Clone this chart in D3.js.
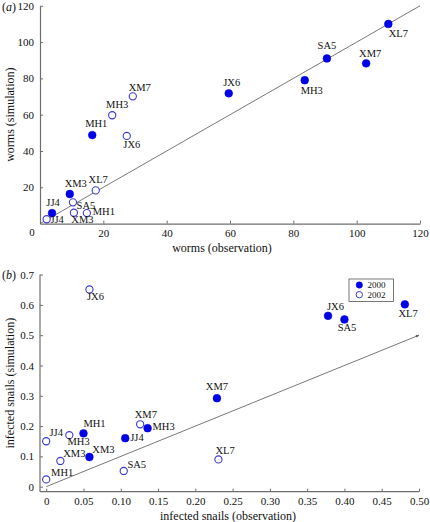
<!DOCTYPE html>
<html><head><meta charset="utf-8">
<script src="https://cdn.jsdelivr.net/npm/d3@7"></script>
<style>body{margin:0;background:#fff}svg{display:block;font-family:"Liberation Serif","Times New Roman",serif}</style>
</head><body>
<svg id="c" width="430" height="522"></svg>
<script>
// Panel (a): worms
const sitesA2000 = ["XL7","SA5","XM7","MH3","JX6","MH1","XM3","JJ4"];
const obsA2000   = [110, 90.6, 103, 83.6, 59.6, 16.5, 9.4, 3.8];
const simA2000   = [110, 91, 88.3, 79, 71.8, 48.8, 16.3, 5.8];
const sitesA2002 = ["XM7","MH3","JX6","XL7","SA5","XM3","MH1","JJ4"];
const obsA2002   = [29.3, 22.8, 27.4, 17.6, 10.4, 10.7, 14.8, 2.1];
const simA2002   = [70.1, 59.7, 48.3, 18.3, 11.7, 6.0, 5.8, 2.4];
const ticksA = [20, 40, 60, 80, 100, 120];

// Panel (b): infected snails
const sitesB2000 = ["XL7","JX6","SA5","XM7","MH3","JJ4","MH1","XM3"];
const obsB2000   = [0.481, 0.378, 0.400, 0.229, 0.136, 0.106, 0.050, 0.058];
const simB2000   = [0.602, 0.564, 0.552, 0.292, 0.193, 0.160, 0.176, 0.098];
const sitesB2002 = ["JX6","XM7","JJ4","MH3","XM3","MH1","SA5","XL7"];
const obsB2002   = [0.058, 0.126, 0.0, 0.031, 0.019, 0.0, 0.104, 0.231];
const simB2002   = [0.651, 0.206, 0.150, 0.170, 0.085, 0.024, 0.052, 0.090];
const ticksBx = [0, 0.05, 0.10, 0.15, 0.20, 0.25, 0.30, 0.35, 0.40, 0.45, 0.50];
const ticksBy = [0, 0.1, 0.2, 0.3, 0.4, 0.5, 0.6, 0.7];
const years = ["2000", "2002"];

const svg = d3.select("#c");
const FILL = "#0000e6", OPEN = "#3a3ad0", AX = "#6e6e6e";

// label placement offsets (dx, dy) relative to point
const offA = {
  "2000": {XL7:[10,9.5], SA5:[0,-12.5], XM7:[4,-10], MH3:[7,10.5], JX6:[3,-11], MH1:[4,-12], XM3:[6,-10.5], JJ4:[1,-10.5]},
  "2002": {XM7:[7,-9], MH3:[5,-11], JX6:[5,9], XL7:[2.5,-10.5], SA5:[13,2.7], XM3:[8.5,6.7], MH1:[17,-1.7], JJ4:[10.5,0]}
};
const offB = {
  "2000": {XL7:[3.3,9], JX6:[7.4,-9.7], SA5:[2.6,8.4], XM7:[0,-11.5], MH3:[16,-1.6], JJ4:[11.7,-1], MH1:[11,-10], XM3:[14,-8]},
  "2002": {JX6:[6,7.4], XM7:[5.7,-10], JJ4:[10,-8.6], MH3:[9.3,6.7], XM3:[14,-7.7], MH1:[16,-7.3], SA5:[13,-6], XL7:[6.7,-8.6]}
};

svg.append("defs").append("marker").attr("id","arr").attr("viewBox","0 0 10 10")
  .attr("refX",10).attr("refY",5).attr("markerWidth",5).attr("markerHeight",3)
  .attr("orient","auto").attr("markerUnits","userSpaceOnUse")
  .append("path").attr("d","M0,0L10,5L0,10z").attr("fill","#555");

function styleAxis(g){
  g.select(".domain").attr("stroke",AX).attr("stroke-width",1.2);
  g.selectAll(".tick line").attr("stroke",AX);
  g.selectAll(".tick text").attr("font-size","11px").attr("fill","#111")
   .attr("font-family","'Liberation Serif',serif");
}

function drawPoints(g, x, y, sites, obs, sim, filled, offs){
  const data = sites.map((s,i)=>({s, o:obs[i], v:sim[i]}));
  g.selectAll(null).data(data).enter().append("circle")
    .attr("cx",d=>x(d.o)).attr("cy",d=>y(d.v)).attr("r", filled?3.9:3.6)
    .attr("fill", filled?FILL:"#fff").attr("stroke", filled?FILL:OPEN).attr("stroke-width", filled?0.5:1.1);
  g.selectAll(null).data(data).enter().append("text")
    .attr("x",d=>x(d.o)+offs[d.s][0]).attr("y",d=>y(d.v)+offs[d.s][1])
    .attr("text-anchor","middle").attr("dominant-baseline","central")
    .attr("font-size","10.5px").attr("fill","#111").text(d=>d.s);
}

// ---------- Panel (a)
const xA = d3.scaleLinear().domain([0,120]).range([40,420]);
const yA = d3.scaleLinear().domain([0,120]).range([223.6,5.8]);
const gA = svg.append("g");
gA.append("g").attr("transform",`translate(0,${yA(0)})`)
  .call(d3.axisBottom(xA).tickValues(ticksA).tickSize(-3).tickPadding(6).tickSizeOuter(0)).call(styleAxis);
gA.append("g").attr("transform",`translate(${xA(0)},0)`)
  .call(d3.axisLeft(yA).tickValues(ticksA).tickSize(-3).tickPadding(6).tickSizeOuter(0)).call(styleAxis);
gA.append("text").attr("x",xA(0)-8).attr("y",yA(0)+8).attr("text-anchor","middle")
  .attr("dominant-baseline","central").attr("font-size","11px").attr("fill","#111").text("0");
gA.append("line").attr("x1",xA(0)).attr("y1",yA(0)).attr("x2",xA(120)).attr("y2",yA(120))
  .attr("stroke","#555").attr("stroke-width",0.8);
drawPoints(gA, xA, yA, sitesA2000, obsA2000, simA2000, true, offA["2000"]);
drawPoints(gA, xA, yA, sitesA2002, obsA2002, simA2002, false, offA["2002"]);
gA.append("text").attr("x",222).attr("y",248).attr("text-anchor","middle").attr("dominant-baseline","central")
  .attr("font-size","12px").attr("fill","#111").text("worms (observation)");
gA.append("text").attr("transform",`translate(10,${(yA(0)+yA(120))/2}) rotate(-90)`)
  .attr("text-anchor","middle").attr("dominant-baseline","central")
  .attr("font-size","12px").attr("fill","#111").text("worms (simulation)");
const la = gA.append("text").attr("x",2).attr("y",7).attr("dominant-baseline","central").attr("font-size","12px").attr("fill","#111");
la.append("tspan").text("(");la.append("tspan").attr("font-style","italic").text("a");la.append("tspan").text(")");

// ---------- Panel (b)
const xB = d3.scaleLinear().domain([0,0.5]).range([46.2,419]);
const yB = d3.scaleLinear().domain([0,0.7]).range([486.7,274.6]);
const gB = svg.append("g");
const xBaxisY = 491.7, yBaxisX = 40;
gB.append("g").attr("transform",`translate(0,${xBaxisY})`)
  .call(d3.axisBottom(xB).tickValues(ticksBx).tickFormat(d=>d===0?"0":d3.format(".2f")(d)).tickSize(-3).tickPadding(6).tickSizeOuter(0))
  .call(styleAxis)
  .call(g=>g.select(".domain").attr("d",`M${yBaxisX},0H${xB(0.5)}`));
gB.append("g").attr("transform",`translate(${yBaxisX},0)`)
  .call(d3.axisLeft(yB).tickValues(ticksBy).tickFormat(d=>d===0?"0":d3.format(".1f")(d)).tickSize(-3).tickPadding(6).tickSizeOuter(0))
  .call(styleAxis)
  .call(g=>g.select(".domain").attr("d",`M0,${xBaxisY}V${yB(0.7)}`));
gB.append("line").attr("x1",xB(0)).attr("y1",yB(0)).attr("x2",xB(0.5)).attr("y2",yB(0.5))
  .attr("stroke","#555").attr("stroke-width",0.8).attr("marker-end","url(#arr)");
drawPoints(gB, xB, yB, sitesB2000, obsB2000, simB2000, true, offB["2000"]);
drawPoints(gB, xB, yB, sitesB2002, obsB2002, simB2002, false, offB["2002"]);
gB.append("text").attr("x",228).attr("y",516).attr("text-anchor","middle").attr("dominant-baseline","central")
  .attr("font-size","12px").attr("fill","#111").text("infected snails (observation)");
gB.append("text").attr("transform",`translate(10,${(xBaxisY+yB(0.7))/2}) rotate(-90)`)
  .attr("text-anchor","middle").attr("dominant-baseline","central")
  .attr("font-size","12px").attr("fill","#111").text("infected snails (simulation)");
const lb = gB.append("text").attr("x",2).attr("y",275).attr("dominant-baseline","central").attr("font-size","12px").attr("fill","#111");
lb.append("tspan").text("(");lb.append("tspan").attr("font-style","italic").text("b");lb.append("tspan").text(")");

// legend
const lg = gB.append("g").attr("transform","translate(349,279)");
lg.append("rect").attr("width",44.5).attr("height",22.5).attr("fill","#fff").attr("stroke","#555").attr("stroke-width",0.8);
years.forEach((yr,i)=>{
  lg.append("circle").attr("cx",10.3).attr("cy",6+i*9.7).attr("r",3.2)
    .attr("fill", i===0?FILL:"#fff").attr("stroke", i===0?FILL:OPEN).attr("stroke-width", i===0?0.5:1);
  lg.append("text").attr("x",18.5).attr("y",6+i*9.7).attr("dominant-baseline","central")
    .attr("font-size","9px").attr("fill","#111").text(yr);
});
</script>
</body></html>
